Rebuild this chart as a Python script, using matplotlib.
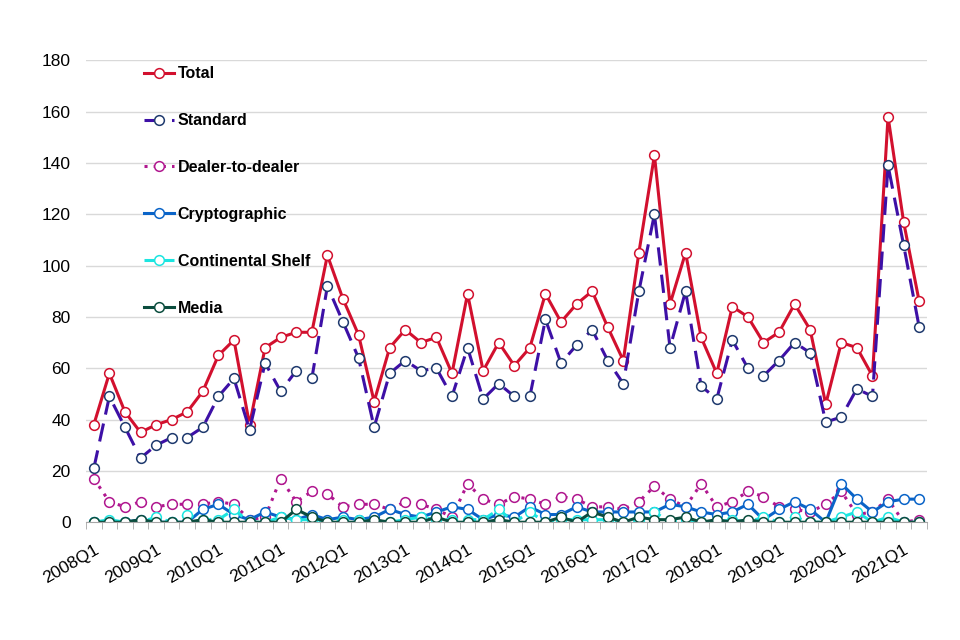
'''
Quarterly counts by licence type, line chart
'''

# Imports
import matplotlib
matplotlib.use('Agg')
import matplotlib.pyplot as plt

# Data
quarters = [f'{y}Q{q}' for y in range(2008, 2022) for q in range(1, 5)][:54]

total = [38, 58, 43, 35, 38, 40, 43, 51, 65, 71,
         38, 68, 72, 74, 74, 104, 87, 73, 47, 68,
         75, 70, 72, 58, 89, 59, 70, 61, 68, 89,
         78, 85, 90, 76, 63, 105, 143, 85, 105, 72,
         58, 84, 80, 70, 74, 85, 75, 46, 70, 68,
         57, 158, 117, 86]

standard = [21, 49, 37, 25, 30, 33, 33, 37, 49, 56,
            36, 62, 51, 59, 56, 92, 78, 64, 37, 58,
            63, 59, 60, 49, 68, 48, 54, 49, 49, 79,
            62, 69, 75, 63, 54, 90, 120, 68, 90, 53,
            48, 71, 60, 57, 63, 70, 66, 39, 41, 52,
            49, 139, 108, 76]

dealer = [17, 8, 6, 8, 6, 7, 7, 7, 8, 7,
          1, 2, 17, 8, 12, 11, 6, 7, 7, 5,
          8, 7, 5, 2, 15, 9, 7, 10, 9, 7,
          10, 9, 6, 6, 5, 8, 14, 9, 6, 15,
          6, 8, 12, 10, 6, 5, 4, 7, 12, 3,
          4, 9, 0, 1]

crypto = [0, 0, 0, 1, 0, 0, 0, 5, 7, 3,
          1, 4, 2, 1, 3, 1, 2, 1, 2, 5,
          3, 2, 4, 6, 5, 1, 3, 2, 6, 3,
          3, 6, 4, 4, 4, 4, 4, 7, 6, 4,
          3, 4, 7, 1, 5, 8, 5, 0, 15, 9,
          4, 8, 9, 9]

shelf = [0, 1, 0, 0, 2, 0, 3, 1, 1, 5,
         0, 0, 2, 1, 1, 0, 1, 1, 0, 0,
         1, 2, 1, 1, 1, 1, 5, 0, 4, 0,
         1, 1, 1, 1, 0, 1, 4, 0, 1, 0,
         0, 1, 0, 2, 0, 2, 0, 0, 2, 4,
         0, 2, 0, 0]

media = [0, 0, 0, 1, 0, 0, 0, 1, 0, 0,
         0, 0, 0, 5, 2, 0, 0, 0, 1, 0,
         0, 0, 2, 0, 0, 0, 1, 0, 0, 0,
         2, 0, 4, 2, 0, 2, 1, 1, 2, 0,
         1, 0, 1, 0, 0, 0, 0, 0, 0, 0,
         0, 0, 0, 0]

# Series styles: (label, values, line colour, marker edge, linestyle)
series = [
    ('Total', total, '#D2102E', '#D2102E', '-'),
    ('Standard', standard, '#3D10A6', '#1F3A6E', (0, (6, 3))),
    ('Dealer-to-dealer', dealer, '#B0178F', '#B0178F', (0, (1, 2))),
    ('Cryptographic', crypto, '#0A64C8', '#0A64C8', '-'),
    ('Continental Shelf', shelf, '#1CE5E0', '#1CE5E0', (0, (4, 2))),
    ('Media', media, '#0B4D3E', '#0B4D3E', '-'),
]

plt.rcParams['font.family'] = ['Liberation Sans', 'DejaVu Sans']

fig = plt.figure(figsize=(9.6, 6.4), dpi=100)
ax = fig.add_axes([0.0896, 0.184, 0.876, 0.722])

x = list(range(len(quarters)))
for label, vals, col, edge, ls in series:
    ax.plot(x, vals, color=col, lw=2.2, ls=ls, marker='o', ms=7,
            mfc='white', mec=edge, mew=1.1, label=label)

ax.set_xlim(-0.5, len(quarters) - 0.5)
ax.set_ylim(0, 180)
ax.set_yticks(range(0, 181, 20))
ax.yaxis.grid(True, color='#D9D9D9', lw=1)
ax.set_axisbelow(True)

for s in ['top', 'right', 'left']:
    ax.spines[s].set_visible(False)
ax.spines['bottom'].set_color('#A6A6A6')
ax.tick_params(axis='y', length=0, labelsize=12.5, pad=11)

# category boundary ticks, labels every 4 quarters
ax.set_xticks([i - 0.5 for i in range(len(quarters) + 1)], minor=True)
ax.tick_params(axis='x', which='minor', length=5, color='#A6A6A6')
ax.set_xticks(x[::4])
ax.set_xticklabels(quarters[::4], rotation=30, ha='right', va='top',
                   rotation_mode='anchor', fontsize=12.5)
ax.tick_params(axis='x', which='major', length=0, pad=14)

leg = ax.legend(loc='upper left', bbox_to_anchor=(0.069, 0.987), frameon=False,
                prop={'weight': 'bold', 'size': 11.5}, handlelength=1.9,
                handletextpad=0.2, labelspacing=2.0, borderaxespad=0,
                borderpad=0)

fig.savefig('out.png', dpi=100)
